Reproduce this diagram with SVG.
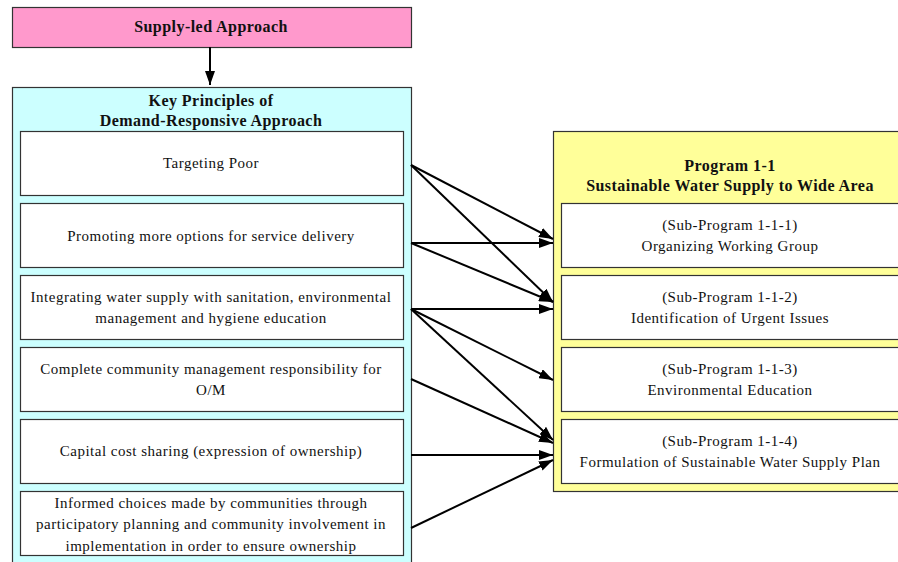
<svg xmlns="http://www.w3.org/2000/svg" width="898" height="562" viewBox="0 0 898 562">
<defs>
<marker id="ah" markerWidth="14" markerHeight="10" refX="14" refY="5" orient="auto" markerUnits="userSpaceOnUse">
<path d="M0,0 L14,5 L0,10 Z" fill="#000"/>
</marker>
<style>
.b{stroke:#333;stroke-width:1.2}
.w{fill:#fff}
text{font-family:"Liberation Serif","Times New Roman",serif;font-size:15px;letter-spacing:0.5px;fill:#111;text-anchor:middle}
.bd{font-weight:bold;font-size:16px;letter-spacing:0.45px}
.c{stroke:#000;stroke-width:2;fill:none;marker-end:url(#ah)}
</style>
</defs>
<rect width="898" height="562" fill="#fff"/>
<g id="supply">
<rect class="b" x="12.5" y="7.5" width="399" height="40" fill="#FF99CC"/>
<text class="bd" x="211" y="32">Supply-led Approach</text>
</g>
<g id="keyPrinciples">
<rect class="b" x="12.5" y="87.5" width="399" height="490" fill="#CCFFFF"/>
<text class="bd" x="211" y="106">Key Principles of</text>
<text class="bd" x="211" y="126">Demand-Responsive Approach</text>
</g>
<g id="p1"><rect class="b w" x="20.5" y="131.5" width="383" height="64"/><text x="211" y="168">Targeting Poor</text></g>
<g id="p2"><rect class="b w" x="20.5" y="203.5" width="383" height="64"/><text x="211" y="241">Promoting more options for service delivery</text></g>
<g id="p3"><rect class="b w" x="20.5" y="275.5" width="383" height="64"/><text x="211" y="302">Integrating water supply with sanitation, environmental</text><text x="211" y="323">management and hygiene education</text></g>
<g id="p4"><rect class="b w" x="20.5" y="347.5" width="383" height="64"/><text x="211" y="374">Complete community management responsibility for</text><text x="211" y="395">O/M</text></g>
<g id="p5"><rect class="b w" x="20.5" y="419.5" width="383" height="64"/><text x="211" y="456">Capital cost sharing (expression of ownership)</text></g>
<g id="p6"><rect class="b w" x="20.5" y="491.5" width="383" height="64"/><text x="211" y="508">Informed choices made by communities through</text><text x="211" y="529">participatory planning and community involvement in</text><text x="211" y="551">implementation in order to ensure ownership</text></g>
<g id="program">
<rect class="b" x="553.5" y="131.5" width="354" height="360" fill="#FFFF99"/>
<text class="bd" x="730" y="171">Program 1-1</text>
<text class="bd" x="730" y="191">Sustainable Water Supply to Wide Area</text>
</g>
<g id="s1"><rect class="b w" x="561.5" y="203.5" width="340" height="64"/><text x="730" y="230">(Sub-Program 1-1-1)</text><text x="730" y="251">Organizing Working Group</text></g>
<g id="s2"><rect class="b w" x="561.5" y="275.5" width="340" height="64"/><text x="730" y="302">(Sub-Program 1-1-2)</text><text x="730" y="323">Identification of Urgent Issues</text></g>
<g id="s3"><rect class="b w" x="561.5" y="347.5" width="340" height="64"/><text x="730" y="374">(Sub-Program 1-1-3)</text><text x="730" y="395">Environmental Education</text></g>
<g id="s4"><rect class="b w" x="561.5" y="419.5" width="340" height="64"/><text x="730" y="446">(Sub-Program 1-1-4)</text><text x="730" y="467">Formulation of Sustainable Water Supply Plan</text></g>
<g id="connectors">
<line class="c" x1="210" y1="47" x2="210" y2="85"/>
<line class="c" x1="411" y1="165" x2="553" y2="239"/>
<line class="c" x1="411" y1="165" x2="553" y2="302"/>
<line class="c" x1="411" y1="243" x2="553" y2="243"/>
<line class="c" x1="411" y1="243" x2="553" y2="302"/>
<line class="c" x1="411" y1="309" x2="553" y2="309"/>
<line class="c" x1="411" y1="309" x2="553" y2="380"/>
<line class="c" x1="411" y1="309" x2="553" y2="440"/>
<line class="c" x1="411" y1="379" x2="553" y2="443"/>
<line class="c" x1="411" y1="455" x2="553" y2="455"/>
<line class="c" x1="411" y1="528" x2="553" y2="460"/>
</g>
</svg>
